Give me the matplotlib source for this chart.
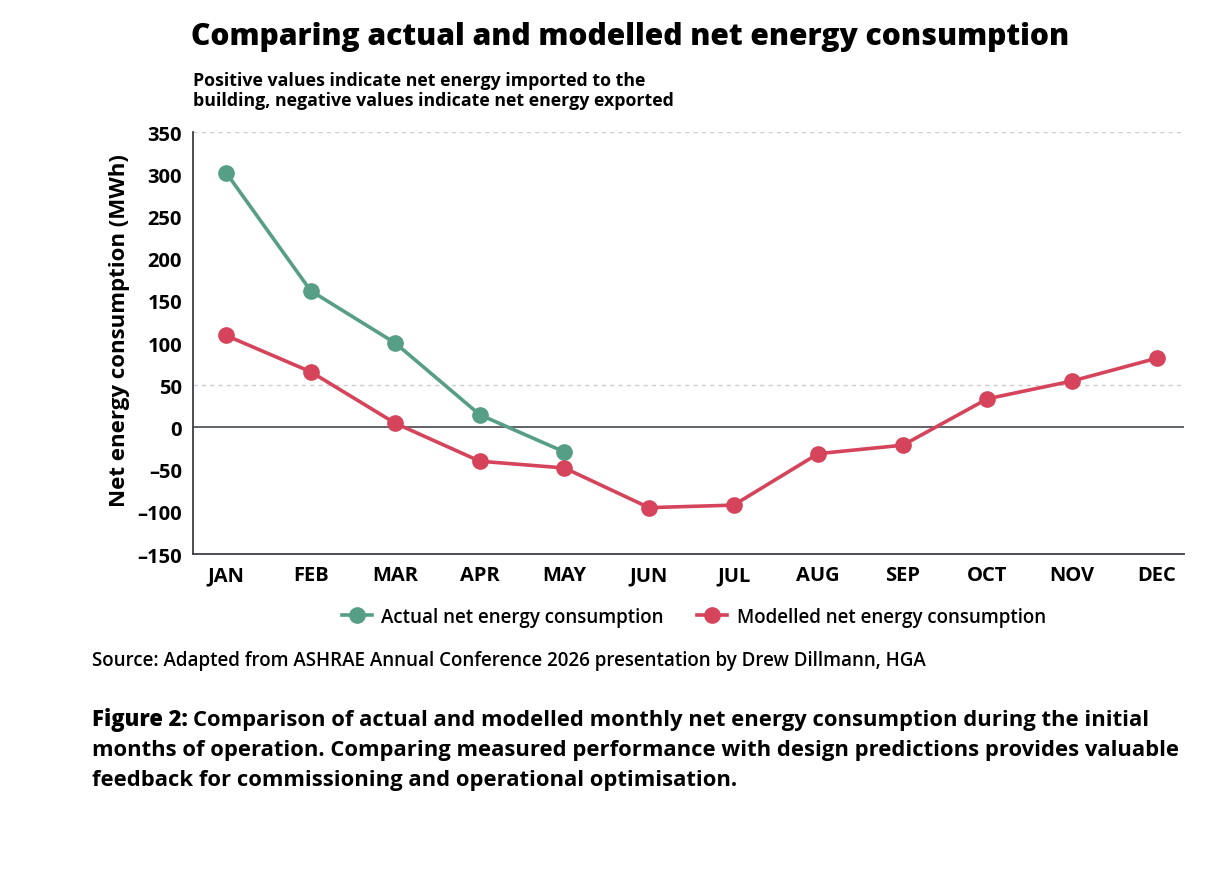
import numpy as np
import matplotlib.pyplot as plt

plt.rcParams['font.family'] = ['Open Sans', 'DejaVu Sans']

months = ['JAN', 'FEB', 'MAR', 'APR', 'MAY', 'JUN', 'JUL', 'AUG', 'SEP', 'OCT', 'NOV', 'DEC']
actual = [302, 162, 100, 15, -29]
modelled = [109, 66, 5, -40, -48, -95, -92, -31, -21, 34, 55, 82]
y_ticks = [-150, -100, -50, 0, 50, 100, 150, 200, 250, 300, 350]

green = '#579E86'
red = '#D5445B'
dark = '#3c3f45'

fig = plt.figure(figsize=(12.3, 8.7), dpi=100)
ax = fig.add_axes([0.157, 0.362, 0.806, 0.485])

x = np.arange(len(months))
ax.plot(x[:len(actual)], actual, color=green, lw=2.6, marker='o', ms=11,
        label='Actual net energy consumption', zorder=3)
ax.plot(x, modelled, color=red, lw=2.6, marker='o', ms=11,
        label='Modelled net energy consumption', zorder=3)

ax.axhline(0, color='#5f6368', lw=1.4, zorder=1)
for g in [50, 350]:
    ax.axhline(g, color='#cccccc', lw=1, ls=(0, (3, 3)), zorder=0)

ax.set_xlim(-0.39, 11.33)
ax.set_ylim(-150, 350)
ax.set_xticks(x)
ax.set_xticklabels(months)
ax.set_yticks(y_ticks)
ax.set_yticklabels([f'{t}'.replace('-', '\u2013') for t in y_ticks])
ax.tick_params(length=0, labelsize=14.5, pad=8)
for lab in ax.get_xticklabels() + ax.get_yticklabels():
    lab.set_fontweight('bold')
for s in ['top', 'right']:
    ax.spines[s].set_visible(False)
for s in ['left', 'bottom']:
    ax.spines[s].set_color(dark)
    ax.spines[s].set_linewidth(1.3)

ax.set_ylabel('Net energy consumption (MWh)', fontsize=16, fontweight='bold')
ax.yaxis.set_label_coords(-0.064, 0.533)

ax.legend(loc='upper center', bbox_to_anchor=(0.505, -0.085), ncol=2, frameon=False,
          handlelength=1.6, columnspacing=1.8, handletextpad=0.5,
          prop={'weight': 'semibold', 'size': 13.5})

fig.text(0.155, 0.958, 'Comparing actual and modelled net energy consumption',
         fontsize=21.6, fontweight='heavy', va='center')
fig.text(0.157, 0.895, 'Positive values indicate net energy imported to the\n'
         'building, negative values indicate net energy exported',
         fontsize=12.8, fontweight='bold', va='center', linespacing=1.15)
fig.text(0.075, 0.24, 'Source: Adapted from ASHRAE Annual Conference 2026 presentation by Drew Dillmann, HGA',
         fontsize=13.5, fontweight='semibold', va='center')

cap_lines = ['Comparison of actual and modelled monthly net energy consumption during the initial',
             'months of operation. Comparing measured performance with design predictions provides valuable',
             'feedback for commissioning and operational optimisation.']
cap_size = 15.8
cap_y = [0.165, 0.1305, 0.096]
fig_lab = fig.text(0.075, cap_y[0], 'Figure 2:', fontsize=cap_size, fontweight='heavy', va='baseline')
# place the rest of the first caption line right after the bold label
renderer = fig.canvas.get_renderer()
lab_end = fig.transFigure.inverted().transform(fig_lab.get_window_extent(renderer))[1][0]
fig.text(lab_end + 0.004, cap_y[0], cap_lines[0], fontsize=cap_size, fontweight='bold', va='baseline')
fig.text(0.075, cap_y[1], cap_lines[1], fontsize=cap_size, fontweight='bold', va='baseline')
fig.text(0.075, cap_y[2], cap_lines[2], fontsize=cap_size, fontweight='bold', va='baseline')

fig.savefig('out.png', dpi=100)
